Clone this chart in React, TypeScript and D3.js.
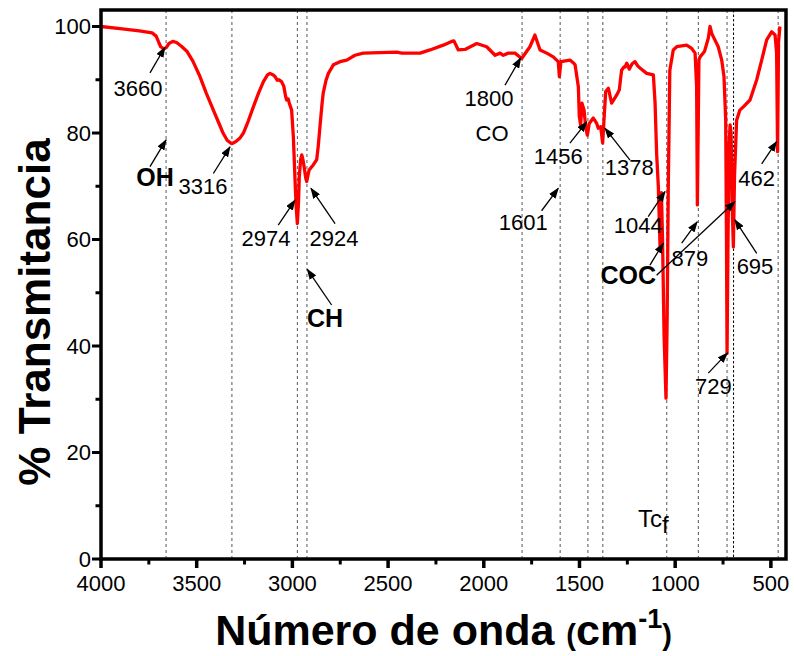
import React from 'react';
import * as d3 from 'd3';

// FTIR spectrum (cm-1, % T)
const wavenumber = [
  4000, 3900, 3800, 3733, 3712, 3698, 3688, 3672, 3660, 3645, 3625, 3605, 3580, 3550, 3520, 3483, 3450, 3413, 3380, 3361,
  3340, 3317, 3295, 3275, 3256, 3230, 3204, 3178, 3152, 3130, 3117, 3100, 3091, 3084, 3079, 3070, 3056, 3045, 3035, 3030,
  3022, 3016, 3004, 2995, 2986, 2980, 2974, 2968, 2964, 2957, 2951, 2945, 2939, 2930, 2925, 2919, 2913, 2900, 2891, 2873,
  2865, 2856, 2845, 2839, 2825, 2812, 2786, 2751, 2716, 2673, 2630, 2455, 2429, 2333, 2281, 2212, 2168, 2156, 2133, 2098,
  2037, 1985, 1941, 1915, 1898, 1872, 1837, 1802, 1759, 1733, 1706, 1671, 1637, 1611, 1605, 1597, 1550, 1530, 1523, 1506,
  1501, 1494, 1487, 1476, 1468, 1459, 1449, 1428, 1410, 1402, 1389, 1379, 1372, 1363, 1349, 1332, 1306, 1292, 1280, 1268,
  1262, 1253, 1240, 1225, 1210, 1196, 1184, 1149, 1114, 1105, 1097, 1088, 1083, 1079, 1072, 1066, 1058, 1048, 1042, 1036,
  1028, 1010, 992, 940, 914, 896, 888, 884, 880, 876, 870, 847, 827, 818, 809, 801, 775, 757, 745, 736,
  732, 729, 724, 718, 713, 708, 702, 696, 690, 679, 662, 644, 609, 574, 548, 522, 496, 478, 470, 465,
  460, 453,
];
const transmittance = [
  100, 99.6, 99.2, 98.8, 98.2, 97.0, 96.2, 95.8, 96.0, 96.8, 97.2, 97.0, 96.3, 95.3, 93.5, 90.6, 87.5, 84.3, 81.5, 79.9,
  78.6, 78.0, 78.4, 79.0, 80.0, 82.3, 84.9, 87.4, 89.6, 90.9, 91.2, 90.9, 90.6, 90.2, 89.9, 90.0, 89.6, 88.8, 86.8, 86.2,
  86.4, 85.6, 84.3, 79.3, 71, 66, 63.0, 67, 71.8, 75, 75.9, 75, 73.7, 71.5, 70.9, 72, 73.0, 73.6, 74.0, 75.0,
  77.5, 81.2, 85.5, 87.5, 89.8, 91.2, 92.8, 93.4, 93.7, 94.6, 95.0, 95.2, 95.0, 95.0, 95.6, 96.5, 97.2, 97.3, 95.6, 95.7,
  96.8, 96.2, 94.6, 95.0, 94.6, 95.0, 95.0, 94.0, 96.2, 98.4, 95.6, 95.0, 94.3, 93.4, 90.6, 93.4, 93.7, 93.1, 92.8, 88.7,
  83.1, 81.5, 85.6, 84.3, 81.2, 79.6, 81.8, 82.8, 81.8, 80.9, 81.2, 78.1, 82.4, 87.8, 88.4, 85.6, 87.1, 88.1, 91.8, 92.4,
  92.4, 93.1, 92.0, 93.0, 93.4, 92.6, 92.2, 91.2, 90.9, 85.6, 76.2, 69.9, 63.7, 58.6, 68.8, 60, 42, 30.2, 45, 70,
  91.8, 95.6, 96.2, 96.5, 95.9, 95.0, 88.7, 66.5, 80, 93.7, 94.3, 95.3, 97.8, 100, 98.7, 98.1, 96.2, 93.7, 90.6, 82.4,
  60, 38.6, 60, 78, 81.5, 80, 66, 58.6, 72, 82.4, 84.3, 84.9, 86.2, 90.0, 93.7, 97.5, 99.0, 98.4, 95, 76.5,
  97, 100,
];

const peakLines = [3660, 3316, 2974, 2924, 1800, 1601, 1456, 1378, 1044, 879, 729, 695, 462];
const xTicks = [4000, 3500, 3000, 2500, 2000, 1500, 1000, 500];
const xMinor = [3750, 3250, 2750, 2250, 1750, 1250, 750];
const yTicks = [0, 20, 40, 60, 80, 100];
const yMinor = [10, 30, 50, 70, 90];

// labels placed in data coordinates (wavenumber, %T)
const labelText = ['3660', 'OH', '3316', '2974', '2924', 'CH', '1800', 'CO', '1456', '1601', '1378', '1044', 'COC', '879', '695', '462', '729'];
const labelWn = [3807, 3718, 3467, 3138, 2783, 2830, 1973, 1957, 1611, 1794, 1240, 1193, 1245, 923, 583, 574, 801];
const labelT = [88.4, 71.6, 69.9, 60.3, 60.3, 45.3, 86.6, 80.0, 75.6, 63.2, 73.6, 62.7, 53.3, 56.5, 54.9, 71.5, 32.5];
const boldLabels = ['OH', 'CH', 'COC'];

// arrows: tail -> tip
const arrowFrom = [[3744, 91.3], [3744, 73.7], [3413, 72.4], [3074, 62.7], [2777, 63.0], [2795, 47.7], [1889, 89.0], [1550, 78.1],
  [1698, 65.4], [1236, 74.9], [1141, 64.3], [1132, 55.2], [1097, 53.3], [966, 59.3], [574, 57.4], [548, 74.2], [827, 34.9]];
const arrowTo = [[3666, 96.1], [3660, 78.7], [3326, 77.4], [2986, 67.4], [2903, 69.6], [2922, 54.4], [1807, 94.1], [1462, 82.1],
  [1611, 69.6], [1367, 80.9], [1053, 69.0], [1062, 59.3], [688, 67.1], [885, 63.3], [688, 63.7], [470, 78.4], [727, 38.7]];

const sampleWn = 1114;
const sampleT = 7.6;

const W = 794;
const H = 656;
const left = 101, right = 786, top = 10, bottom = 559;
const font = 'Liberation Sans, Arial, sans-serif';

export default function App() {
  const x = d3.scaleLinear().domain([4000, 421]).range([left, right]);
  const y = d3.scaleLinear().domain([0, 103.1]).range([bottom, top]);

  const pts: [number, number][] = wavenumber.map((w, i) => [w, transmittance[i]]);
  const line = d3.line<[number, number]>()
    .x(d => x(d[0]))
    .y(d => y(d[1]));

  return (
    <svg width={W} height={H} style={{ position: 'absolute', left: 0, top: 0, background: '#fff' }}>
      <defs>
        <marker id="arr" markerUnits="userSpaceOnUse" markerWidth="11" markerHeight="8" refX="10" refY="4" orient="auto">
          <path d="M0,0 L11,4 L0,8 z" fill="#000" />
        </marker>
      </defs>

      {peakLines.map(p => (
        <line key={p} x1={x(p)} x2={x(p)} y1={top} y2={bottom}
          stroke={p === 695 ? '#000' : '#555'} strokeWidth={1}
          strokeDasharray={p === 695 ? '2.5,2' : '3,3'} />
      ))}

      <path d={line(pts) || ''} fill="none" stroke="#ff0000" strokeWidth={3.3} strokeLinejoin="round" />

      {arrowFrom.map((f, i) => (
        <line key={'a' + i} x1={x(f[0])} y1={y(f[1])} x2={x(arrowTo[i][0])} y2={y(arrowTo[i][1])}
          stroke="#000" strokeWidth={1.3} markerEnd="url(#arr)" />
      ))}

      {labelText.map((t, i) => {
        const bold = boldLabels.includes(t);
        return (
          <text key={'l' + i} x={x(labelWn[i])} y={y(labelT[i])} dy="0.35em" textAnchor="middle"
            fontFamily={font} fontSize={bold ? 25 : 22} fontWeight={bold ? 'bold' : 'normal'} fill="#000">
            {t}
          </text>
        );
      })}

      <text x={x(sampleWn)} y={y(sampleT)} dy="0.35em" textAnchor="middle" fontFamily={font} fontSize={24}>
        Tc<tspan dy="6">f</tspan>
      </text>

      {/* axes frame */}
      <rect x={left} y={top} width={right - left} height={bottom - top} fill="none" stroke="#000" strokeWidth={3.5} />

      {xTicks.map(t => (
        <g key={'x' + t}>
          <line x1={x(t)} x2={x(t)} y1={bottom} y2={bottom + 9} stroke="#000" strokeWidth={3.5} />
          <text x={x(t)} y={bottom + 32} textAnchor="middle" fontFamily={font} fontSize={22}>{t}</text>
        </g>
      ))}
      {xMinor.map(t => (
        <line key={'xm' + t} x1={x(t)} x2={x(t)} y1={bottom} y2={bottom + 5.5} stroke="#000" strokeWidth={3} />
      ))}
      {yTicks.map(t => (
        <g key={'y' + t}>
          <line x1={left - 9} x2={left} y1={y(t)} y2={y(t)} stroke="#000" strokeWidth={3} />
          <text x={left - 10} y={y(t)} dy="0.35em" textAnchor="end" fontFamily={font} fontSize={22}>{t}</text>
        </g>
      ))}
      {yMinor.map(t => (
        <line key={'ym' + t} x1={left - 5.5} x2={left} y1={y(t)} y2={y(t)} stroke="#000" strokeWidth={3} />
      ))}

      <text x={(left + right) / 2} y={645} textAnchor="middle" fontFamily={font} fontSize={43} fontWeight="bold">
        Número de onda <tspan fontSize={29}>(</tspan>cm<tspan fontSize={27} dy="-17">-1</tspan><tspan fontSize={29} dy="17">)</tspan>
      </text>
      <text transform={`translate(50, 312) rotate(-90)`} textAnchor="middle" fontFamily={font} fontSize={44} fontWeight="bold">
        % Transmitancia
      </text>
    </svg>
  );
}
